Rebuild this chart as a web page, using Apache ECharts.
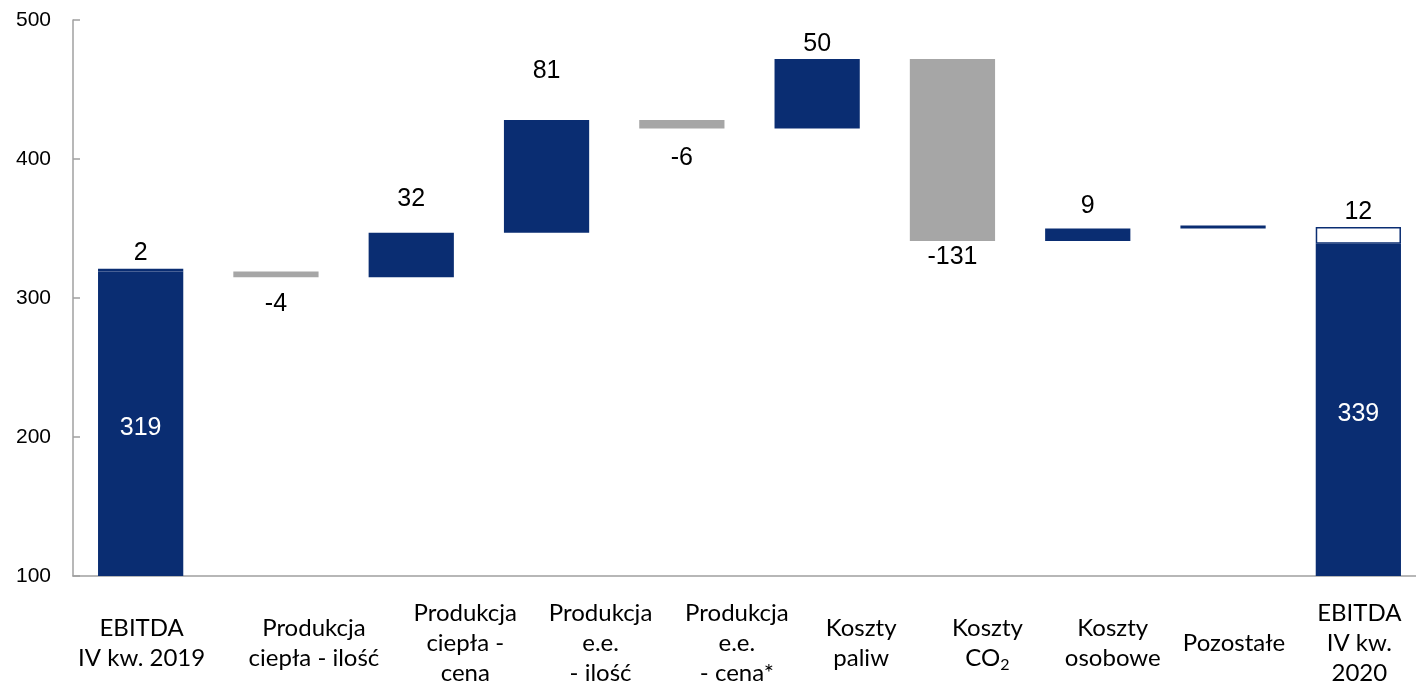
<!DOCTYPE html>
<html>
<head>
<meta charset="utf-8">
<style>
  html, body { margin: 0; padding: 0; background: #fff; }
  #chart { width: 1416px; height: 686px; }
</style>
<script src="https://cdn.jsdelivr.net/npm/echarts@6/dist/echarts.min.js"></script>
</head>
<body>
<div id="chart"></div>
<script>
// EBITDA bridge, Q4 2019 -> Q4 2020
const categories = [
  'EBITDA\nIV kw. 2019',
  'Produkcja\nciepła - ilość',
  'Produkcja\nciepła -\ncena',
  'Produkcja\ne.e.\n- ilość',
  'Produkcja\ne.e.\n- cena*',
  'Koszty\npaliw',
  'Koszty\nCO₂',
  'Koszty\nosobowe',
  'Pozostałe',
  'EBITDA\nIV kw.\n2020'
];
// full EBITDA columns (null = step column)
const totals = [319, null, null, null, null, null, null, null, null, 339];
// change shown by each column (for total columns: the boxed top segment)
const deltas = [2, -4, 32, 81, -6, 50, -131, 9, 0, 12];
// level from which each step starts
const levels = [319, 319, 315, 347, 428, 422, 472, 341, 350, 339];
const yTicks = [100, 200, 300, 400, 500];

const NAVY = '#0a2d72';
const GREY = '#a6a6a6';
const CAT_FONT = 'Lato, Carlito, Calibri, sans-serif';
const VALUE_FONT = { fontFamily: 'Liberation Sans, Arial, sans-serif', fontSize: 25, color: '#000' };

// gap between each value label and its bar
const labelGap = [3, 14, 21, 36, 17, 2, 4, 10, 0, 3];
// horizontal nudge of each category caption to the right of its column
const captionShift = [1, 38, 54, 54, 55, 44, 35, 25, 11, 1];

const isTotal = totals.map(v => v !== null);

const captionStyle = {
  fontFamily: CAT_FONT,
  fontSize: 24,
  lineHeight: 30,
  color: '#000',
  align: 'center',
  verticalAlign: 'middle'
};

const axisData = categories.map((c, i) => ({
  value: c,
  textStyle: { ...captionStyle, padding: [0, 0, 0, captionShift[i] * 2] }
}));

const baseData = deltas.map((d, i) => isTotal[i] ? '-' : Math.min(levels[i], levels[i] + d));
const totalData = totals.map(v => v === null ? '-' : v);
const upData = deltas.map((d, i) => (!isTotal[i] && d >= 0)
  ? { value: d, label: { show: d !== 0, distance: labelGap[i] } } : '-');
const downData = deltas.map((d, i) => (!isTotal[i] && d < 0)
  ? { value: -d, label: { distance: labelGap[i] } } : '-');
const capData = deltas.map((d, i) => isTotal[i]
  ? { value: d, label: { distance: labelGap[i] } } : '-');

const chart = echarts.init(document.getElementById('chart'), null, { renderer: 'canvas' });

chart.setOption({
  animation: false,
  backgroundColor: '#fff',
  grid: { left: 73, right: -10, top: 20, bottom: 110, containLabel: false, outerBoundsMode: 'none' },
  xAxis: {
    type: 'category',
    data: axisData,
    axisLine: { lineStyle: { color: '#a0a0a0', width: 1.5 } },
    axisTick: { show: false },
    axisLabel: {
      interval: 0,
      margin: 67,
      ...captionStyle,
      formatter: v => v.replace('CO₂', '{t|CO}{s|2}'),
      rich: {
        t: { fontFamily: CAT_FONT, fontSize: 24, color: '#000', lineHeight: 30 },
        s: { fontFamily: CAT_FONT, fontSize: 16, color: '#000', lineHeight: 30, verticalAlign: 'bottom', padding: [11, 0, 0, 0] }
      }
    }
  },
  yAxis: {
    type: 'value',
    min: yTicks[0],
    max: yTicks[yTicks.length - 1],
    interval: 100,
    splitLine: { show: false },
    axisLine: { show: true, lineStyle: { color: '#a0a0a0', width: 1.5 } },
    axisTick: { show: true, inside: true, length: 7, lineStyle: { color: '#a0a0a0', width: 1.5 } },
    axisLabel: {
      margin: 22,
      fontFamily: 'Liberation Sans, Arial, sans-serif',
      fontSize: 21,
      color: '#000'
    }
  },
  series: [
    {
      name: 'base', type: 'bar', stack: 'w', barWidth: '63%',
      itemStyle: { color: 'transparent' },
      emphasis: { disabled: true },
      data: baseData
    },
    {
      name: 'total', type: 'bar', stack: 'w',
      itemStyle: { color: NAVY },
      label: {
        show: true, position: 'inside', offset: [0, 4],
        ...VALUE_FONT, color: '#fff'
      },
      data: totalData
    },
    {
      name: 'up', type: 'bar', stack: 'w', barMinHeight: 3,
      itemStyle: { color: NAVY },
      label: { show: true, position: 'top', ...VALUE_FONT },
      data: upData
    },
    {
      name: 'down', type: 'bar', stack: 'w',
      itemStyle: { color: GREY },
      label: { show: true, position: 'bottom', ...VALUE_FONT, formatter: p => '-' + p.value },
      data: downData
    },
    {
      name: 'cap', type: 'bar', stack: 'w',
      itemStyle: { color: '#fff', borderColor: NAVY, borderWidth: 1.5 },
      label: { show: true, position: 'top', ...VALUE_FONT },
      data: capData
    }
  ]
});
</script>
</body>
</html>
